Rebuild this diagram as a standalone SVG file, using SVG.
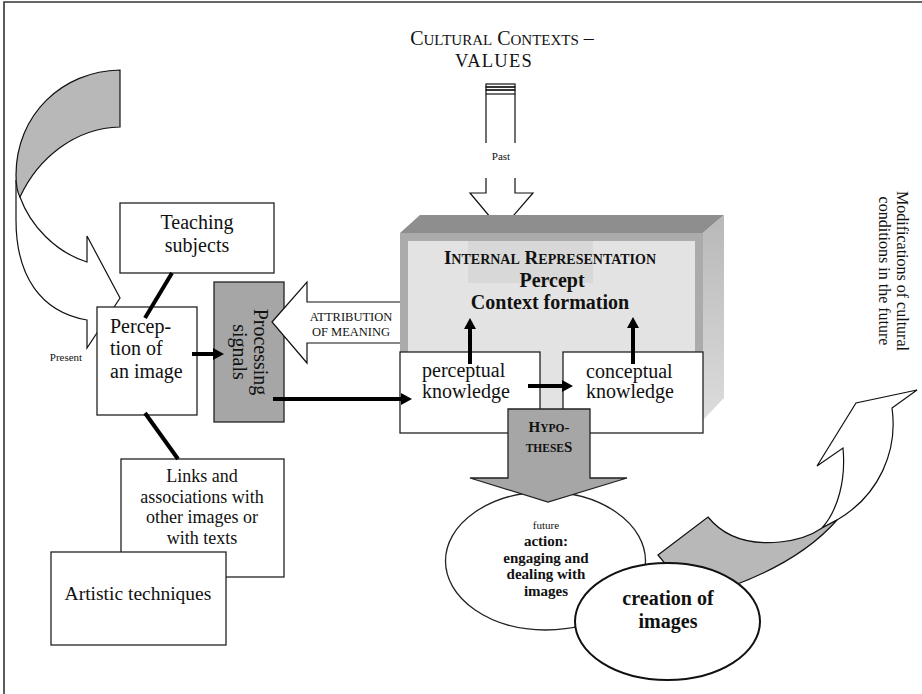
<svg xmlns="http://www.w3.org/2000/svg" width="922" height="694" viewBox="0 0 922 694">
<style>
text{font-family:"Liberation Serif","Times New Roman",serif;fill:#111}
.box{fill:#fff;stroke:#222;stroke-width:1.3}
.gray{fill:#a6a6a6;stroke:#222;stroke-width:1.3}
.ln{stroke:#000;stroke-width:4;fill:none}
.t20{font-size:20px}
.b{font-weight:bold}
.c{text-anchor:middle}
</style>
<defs>
<marker id="ah" markerUnits="userSpaceOnUse" markerWidth="12" markerHeight="12" refX="0" refY="6" orient="auto">
<path d="M0,0 L11,6 L0,12 Z" fill="#000"/>
</marker>
<linearGradient id="side" x1="0" y1="0" x2="0" y2="1">
<stop offset="0" stop-color="#b8b8b8"/>
<stop offset="1" stop-color="#dcdcdc"/>
</linearGradient>
</defs>

<path d="M922,2 L4,2 L4,694" fill="none" stroke="#333" stroke-width="1.6"/>

<g id="present-arrow">
<path d="M20,197 C30,225 55,252 87,262 L87,236 L120,298 L87,348 L87,320 C40,312 16,275 16,220 L16,180 Z" fill="#fff" stroke="#111" stroke-width="1.2"/>
<path d="M120,70 L120,127 C75,128 38,158 20,197 C16,190 16,182 16,175 C16,115 62,71 120,70 Z" fill="#b8b8b8" stroke="#111" stroke-width="1.2"/>
<text x="66" y="361" class="c" font-size="11">Present</text>
</g>

<g id="teaching">
<rect x="120" y="203" width="154" height="70" class="box"/>
<text x="197" y="229" class="c t20">Teaching</text>
<text x="197" y="252" class="c t20">subjects</text>
</g>

<g id="perception">
<rect x="97" y="307" width="100" height="108" class="box"/>
<text x="110" y="333" class="t20">Percep-</text>
<text x="110" y="355" class="t20">tion of</text>
<text x="110" y="378" class="t20">an image</text>
</g>

<g id="links">
<rect x="121" y="459" width="163" height="118" class="box"/>
<text x="202" y="482" class="c" font-size="18">Links and</text>
<text x="202" y="503" class="c" font-size="18">associations with</text>
<text x="202" y="523" class="c" font-size="18">other images or</text>
<text x="202" y="544" class="c" font-size="18">with texts</text>
</g>

<g id="artistic">
<rect x="51" y="552" width="175" height="93" class="box"/>
<text x="138" y="600" class="c" font-size="19.5">Artistic techniques</text>
</g>

<g id="processing">
<rect x="214" y="282" width="70" height="140" class="gray"/>
<g transform="translate(254,352) rotate(90)">
<text x="0" y="0" class="c t20">Processing</text>
<text x="0" y="21" class="c t20">signals</text>
</g>
</g>

<g id="attribution">
<polygon points="272,322 307,282 307,302 412,302 412,343 307,343 307,363" fill="#fff" stroke="#111" stroke-width="1.2"/>
<text x="351" y="321" class="c" font-size="12.5">ATTRIBUTION</text>
<text x="351" y="336" class="c" font-size="12.5">OF MEANING</text>
</g>

<g id="cultural">
<text x="502" y="45" class="c" font-size="20">C<tspan font-size="15">ULTURAL</tspan> C<tspan font-size="15">ONTEXTS</tspan> –</text>
<text x="494" y="67" class="c" font-size="18.5" letter-spacing="1.2">VALUES</text>
</g>

<g id="past-arrow" fill="none" stroke="#111" stroke-width="1.2">
<rect x="486" y="84" width="29" height="3"/>
<rect x="486" y="87" width="29" height="3"/>
<rect x="486" y="90" width="29" height="4"/>
<path d="M486,94 L486,143 M515,94 L515,143 M486,178 L486,193 L470,193 L501,230 L533,193 L515,193 L515,178"/>
<text x="501" y="160" class="c" font-size="11" stroke="none">Past</text>
</g>

<g id="internal-representation">
<polygon points="400,233 420,215 724,215 703,233" fill="#8e8e8e"/>
<polygon points="703,233 724,215 724,398 703,420" fill="url(#side)"/>
<rect x="400" y="233" width="303" height="192" fill="#ababab"/>
<rect x="408" y="241" width="287" height="184" fill="#e3e3e3"/>
<rect x="468" y="241" width="125" height="42" fill="#d8d8d8"/>
<text x="550" y="264" class="c b" font-size="19">I<tspan font-size="14">NTERNAL</tspan> R<tspan font-size="14">EPRESENTATION</tspan></text>
<text x="552" y="287" class="c b t20">Percept</text>
<text x="550" y="309" class="c b t20">Context formation</text>
</g>

<g id="perceptual">
<rect x="400" y="352" width="140" height="81" class="box"/>
<text x="422" y="377" class="t20">perceptual</text>
<text x="422" y="398" class="t20">knowledge</text>
</g>

<g id="conceptual">
<rect x="563" y="352" width="140" height="81" class="box"/>
<text x="586" y="378" class="t20">conceptual</text>
<text x="586" y="398" class="t20">knowledge</text>
</g>

<g id="connectors">
<line x1="172" y1="273" x2="145" y2="318" class="ln"/>
<line x1="145" y1="413" x2="178" y2="459" class="ln"/>
<line x1="192" y1="354" x2="213" y2="354" class="ln" marker-end="url(#ah)"/>
<line x1="273" y1="399" x2="401" y2="399" class="ln" marker-end="url(#ah)"/>
<line x1="528" y1="386" x2="562" y2="386" class="ln" marker-end="url(#ah)"/>
<line x1="470" y1="364" x2="470" y2="329" class="ln" marker-end="url(#ah)"/>
<line x1="633" y1="364" x2="633" y2="328" class="ln" marker-end="url(#ah)"/>
</g>

<g id="action">
<ellipse cx="545.5" cy="561" rx="100" ry="69" class="box"/>
<text x="546" y="529" class="c" font-size="11">future</text>
<text x="546" y="546" class="c b" font-size="15">action:</text>
<text x="546" y="563" class="c b" font-size="15">engaging and</text>
<text x="546" y="579" class="c b" font-size="15">dealing with</text>
<text x="546" y="596" class="c b" font-size="15">images</text>
</g>

<g id="hypotheses">
<polygon points="508,409 590,409 590,478 627,478 548,502 470,478 508,478" class="gray"/>
<text x="549" y="432" class="c b" font-size="15">H<tspan font-size="11.5">YPO</tspan>-</text>
<text x="549" y="452" class="c b" font-size="11.5">THESE<tspan font-size="15">S</tspan></text>
</g>

<g id="future-arrow">
<path d="M822,528 C838,510 846,480 843,448 L817,466 L856,403 L917,390 L892,408 C898,450 880,495 837,520 Z" fill="#fff" stroke="#111" stroke-width="1.2"/>
<path d="M658,555 L708,517 C725,538 750,545 780,542 C800,540 812,535 822,528 L837,520 C815,545 780,568 735,585 L667,566 Z" fill="#b8b8b8" stroke="#111" stroke-width="1.2"/>
</g>

<g id="creation">
<ellipse cx="667.5" cy="621.5" rx="92.5" ry="58.5" fill="#fff" stroke="#111" stroke-width="2"/>
<text x="668" y="605" class="c b t20">creation of</text>
<text x="668" y="628" class="c b t20">images</text>
</g>

<g id="modifications" transform="translate(897,271) rotate(90)">
<text x="0" y="0" class="c" font-size="16">Modifications of cultural</text>
<text x="0" y="18" class="c" font-size="16">conditions in the future</text>
</g>
</svg>
